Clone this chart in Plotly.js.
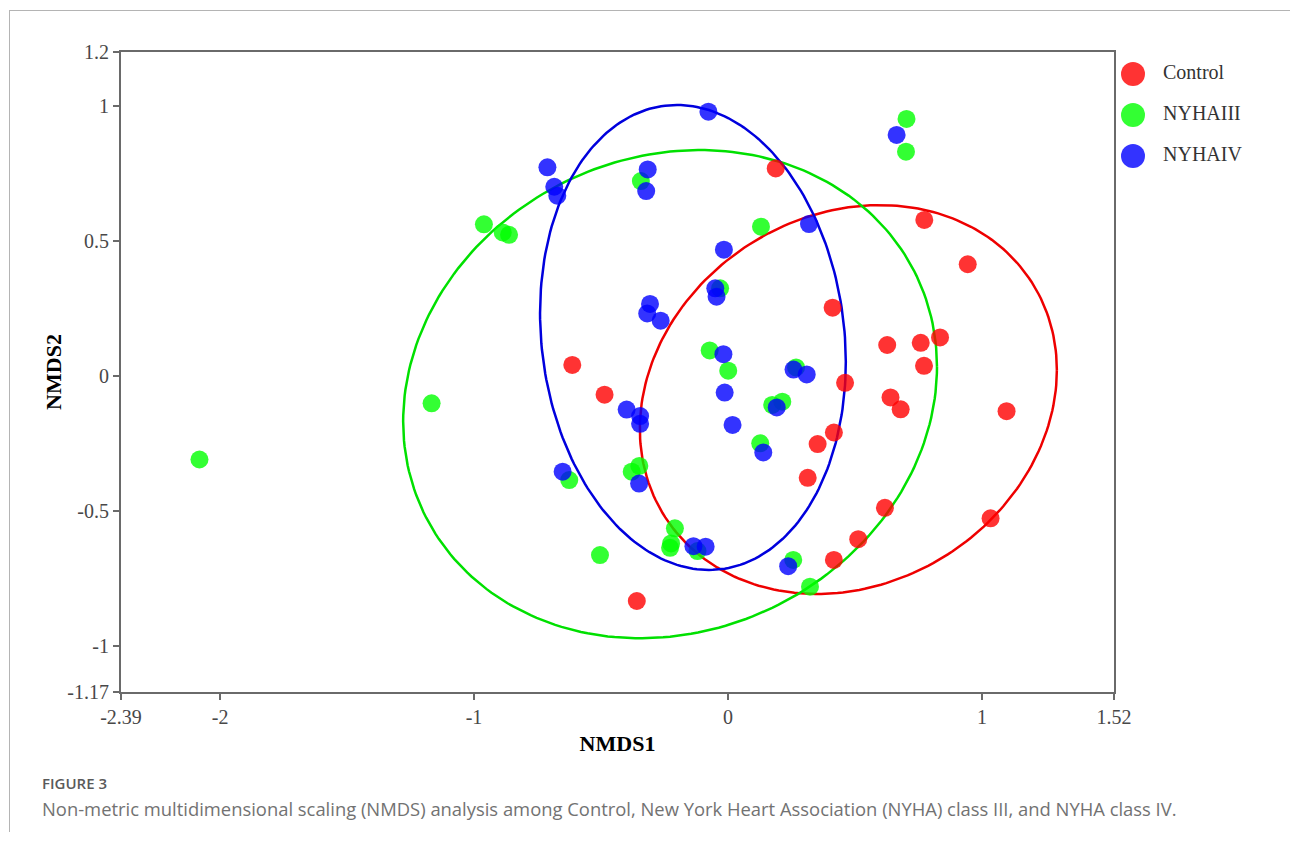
<!DOCTYPE html>
<html>
<head>
<meta charset="utf-8">
<script src="https://cdn.plot.ly/plotly-3.0.1.min.js"></script>
<style>
  html, body { margin: 0; padding: 0; background: #fff; }
  #wrap { position: relative; width: 1290px; height: 841px; overflow: hidden; }
  #chart { position: absolute; left: 0; top: 0; width: 1290px; height: 841px; }
  #frameTop { position: absolute; left: 9px; top: 10px; width: 1281px; height: 0; border-top: 1px solid #b4b4b4; }
  #frameLeft { position: absolute; left: 9px; top: 10px; width: 0; height: 822px; border-left: 1px solid #b4b4b4; }
  #figLabel { position: absolute; left: 42px; top: 773px; font-family: "Open Sans", sans-serif; font-weight: 600; font-size: 15px; color: #5a5a5a; }
  #caption { position: absolute; left: 42px; top: 796px; font-family: "Open Sans", sans-serif; font-weight: 400; font-size: 18.4px; color: #727272; white-space: nowrap; }
</style>
</head>
<body>
<div id="wrap">
  <div id="chart"></div>
  <div id="frameTop"></div>
  <div id="frameLeft"></div>
  <div id="figLabel">FIGURE 3</div>
  <div id="caption">Non-metric multidimensional scaling (NMDS) analysis among Control, New York Heart Association (NYHA) class III, and NYHA class IV.</div>
</div>
<script>
// ---------------- data ----------------
const groups = ["Control", "NYHAIII", "NYHAIV"];

const controlX = [0.188, 0.412, 0.773, 0.944, 0.627, 0.759, 0.835, 0.772, 0.461, 0.640, 0.680, 1.097, 0.417, 0.353, 0.314, 0.618, 1.034, 0.513, 0.417, -0.613, -0.486, -0.359];
const controlY = [0.769, 0.253, 0.578, 0.414, 0.115, 0.123, 0.143, 0.038, -0.025, -0.079, -0.123, -0.130, -0.209, -0.252, -0.377, -0.488, -0.527, -0.604, -0.681, 0.041, -0.069, -0.833];

const nyha3X = [0.703, 0.701, -0.343, -0.961, -0.887, -0.862, 0.130, -0.031, -0.072, 0.001, 0.268, 0.174, 0.214, 0.127, -1.167, -2.081, -0.625, -0.379, -0.349, -0.209, -0.224, -0.228, -0.504, 0.257, 0.323, -0.120];
const nyha3Y = [0.952, 0.831, 0.722, 0.562, 0.532, 0.523, 0.553, 0.325, 0.095, 0.020, 0.032, -0.107, -0.095, -0.249, -0.101, -0.309, -0.385, -0.354, -0.333, -0.564, -0.620, -0.636, -0.663, -0.681, -0.780, -0.648];

const nyha4X = [-0.077, -0.711, -0.684, -0.672, -0.316, -0.322, 0.319, -0.016, -0.050, -0.045, -0.307, -0.318, -0.265, -0.018, -0.013, 0.258, 0.310, -0.399, -0.346, -0.346, 0.018, 0.192, 0.139, -0.651, -0.350, -0.136, -0.088, 0.237, 0.664];
const nyha4Y = [0.979, 0.773, 0.701, 0.668, 0.765, 0.685, 0.563, 0.468, 0.325, 0.294, 0.267, 0.232, 0.205, 0.081, -0.061, 0.024, 0.006, -0.124, -0.148, -0.177, -0.181, -0.116, -0.283, -0.354, -0.398, -0.630, -0.632, -0.704, 0.893];

// confidence ellipses: centre, half-width, half-height, skew (radians)
const ellipseCx = [0.474, -0.228, -0.138];
const ellipseCy = [-0.087, -0.067, 0.143];
const ellipseHx = [0.821, 1.051, 0.602];
const ellipseHy = [0.720, 0.904, 0.861];
const ellipseSkew = [0.152, 0.112, -0.105];

const xTicks = [-2.39, -2, -1, 0, 1, 1.52];
const yTicks = [-1.17, -1, -0.5, 0, 0.5, 1, 1.2];
const legendIndex = [0, 1, 2];

// ---------------- styles ----------------
const pointColors = ["rgba(255,0,0,0.8)", "rgba(0,255,0,0.8)", "rgba(0,0,255,0.8)"];
const lineColors = ["#ee0000", "#00e000", "#0000dd"];
const serif = "Liberation Serif, Times New Roman, serif";

const seriesX = [controlX, nyha3X, nyha4X];
const seriesY = [controlY, nyha3Y, nyha4Y];

function ellipsePoints(i) {
  const xs = [], ys = [];
  const n = 240;
  for (let k = 0; k <= n; k++) {
    const t = 2 * Math.PI * k / n;
    xs.push(ellipseCx[i] + ellipseHx[i] * Math.cos(t));
    ys.push(ellipseCy[i] + ellipseHy[i] * Math.sin(t + ellipseSkew[i]));
  }
  return {x: xs, y: ys};
}

const traces = [];
groups.forEach((g, i) => {
  const e = ellipsePoints(i);
  traces.push({
    type: "scatter", mode: "lines", x: e.x, y: e.y,
    line: {color: lineColors[i], width: 2.5},
    hoverinfo: "skip", showlegend: false
  });
});
groups.forEach((g, i) => {
  traces.push({
    type: "scatter", mode: "markers", name: g,
    x: seriesX[i], y: seriesY[i],
    marker: {color: pointColors[i], size: 18, line: {width: 0}},
    showlegend: false
  });
});
// custom legend
traces.push({
  type: "scatter", mode: "markers", xaxis: "x2", yaxis: "y2",
  x: legendIndex.map(() => 0), y: legendIndex,
  marker: {color: pointColors, size: 24, line: {width: 0}},
  hoverinfo: "skip", showlegend: false
});
traces.push({
  type: "scatter", mode: "text", xaxis: "x2", yaxis: "y2",
  x: legendIndex.map(() => 30), y: legendIndex, text: groups,
  textposition: "middle right",
  textfont: {family: serif, size: 20, color: "#333"},
  hoverinfo: "skip", showlegend: false
});

const axisCommon = {
  showgrid: false, zeroline: false,
  showline: true, linecolor: "#6a6a6a", linewidth: 2, mirror: true,
  ticks: "outside", ticklen: 6, tickwidth: 1.5, tickcolor: "#6a6a6a",
  tickfont: {family: serif, size: 20, color: "#484848"},
  tickmode: "array", automargin: false
};

const layout = {
  width: 1290, height: 841,
  margin: {l: 121, r: 10, t: 52, b: 149},
  paper_bgcolor: "rgba(0,0,0,0)", plot_bgcolor: "#fff",
  showlegend: false,
  xaxis: Object.assign({}, axisCommon, {
    domain: [0, 993 / 1159],
    range: [-2.39, 1.52], tickvals: xTicks, ticktext: xTicks.map(String),
    title: {text: "NMDS1", font: {family: serif, size: 22, color: "#000", weight: "bold"}, standoff: 9}
  }),
  yaxis: Object.assign({}, axisCommon, {
    range: [-1.17, 1.2], tickvals: yTicks, ticktext: yTicks.map(String),
    title: {text: "NMDS2", font: {family: serif, size: 22, color: "#000", weight: "bold"}, standoff: 0}
  }),
  xaxis2: {domain: [993 / 1159, 1], anchor: "y2", range: [-19, 147], visible: false, fixedrange: true},
  yaxis2: {domain: [0.8, 1], anchor: "x2", range: [2.585, -0.537], visible: false, fixedrange: true}
};

Plotly.newPlot("chart", traces, layout, {displayModeBar: false, staticPlot: true});
</script>
</body>
</html>
